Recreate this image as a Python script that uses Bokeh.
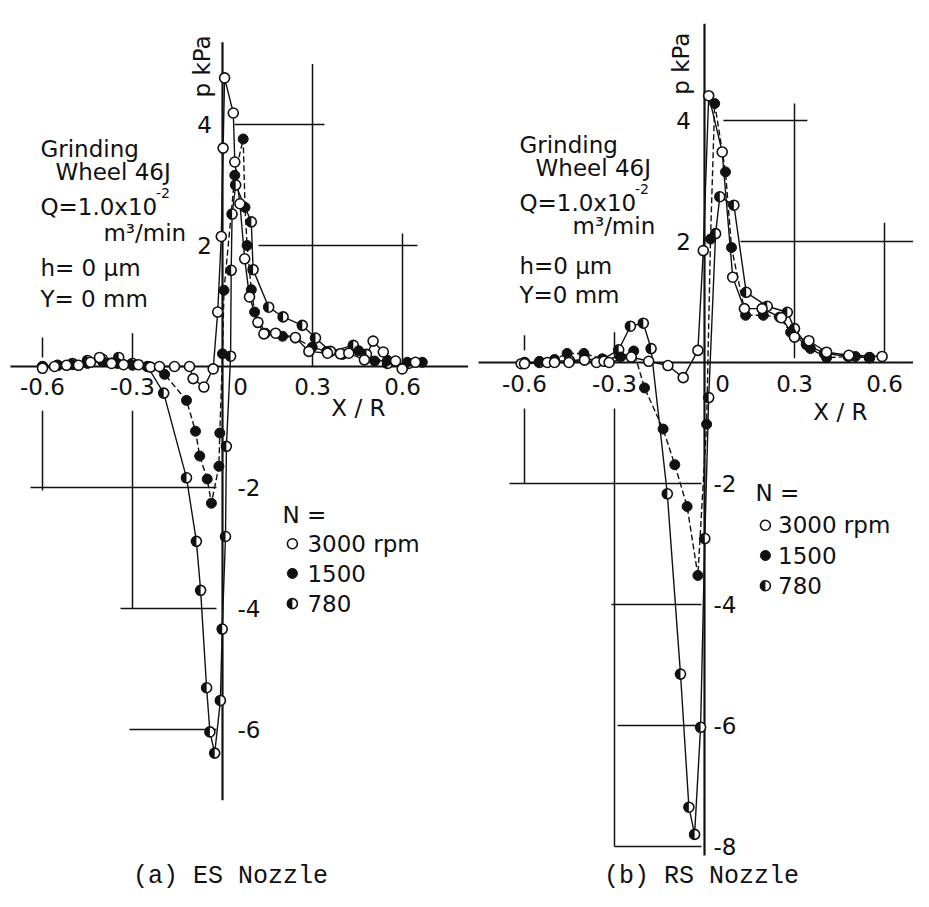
import numpy as np
from bokeh.plotting import figure
from bokeh.layouts import row
from bokeh.models import Range1d
from bokeh.core.properties import value
from bokeh.embed import file_html
from bokeh.resources import INLINE

# ---------------- DATA ----------------
series_names = ["3000 rpm", "1500", "780"]

# (a) ES Nozzle
a_x_3000 = [-0.60, -0.56, -0.52, -0.48, -0.44, -0.41, -0.37, -0.33, -0.28, -0.24, -0.21, -0.16, -0.11,
            -0.098, -0.062, -0.031, -0.016, -0.004, 0.002, 0.007, 0.036, 0.041, 0.058, 0.074, 0.09,
            0.118, 0.138, 0.177, 0.243, 0.288, 0.35, 0.393, 0.421, 0.473, 0.502, 0.536, 0.577, 0.599, 0.643]
a_p_3000 = [-0.03, 0.0, 0.02, 0.02, 0.07, 0.15, 0.05, 0.03, 0.03, -0.01, 0.0, 0.0, 0.0,
            -0.2, -0.34, -0.04, 0.90, 2.15, 3.61, 4.77, 4.19, 3.38, 2.69, 1.78, 1.15,
            0.73, 0.54, 0.55, 0.48, 0.25, 0.22, 0.21, 0.22, 0.11, 0.42, 0.24, 0.09, -0.04, 0.07]

a_x_1500 = [-0.60, -0.55, -0.50, -0.45, -0.40, -0.35, -0.30, -0.25, -0.193, -0.12, -0.09, -0.076,
            -0.051, -0.037, -0.012, -0.009, 0.0, 0.005, 0.041, 0.069, 0.075, 0.082, 0.096, 0.107,
            0.143, 0.20, 0.243, 0.299, 0.347, 0.40, 0.454, 0.507, 0.55, 0.616, 0.666]
a_p_1500 = [0.0, 0.02, 0.03, 0.05, 0.08, 0.05, 0.02, 0.0, -0.13, -0.56, -1.07, -1.48,
            -1.86, -2.26, -1.65, -1.10, 0.21, 1.26, 3.16, 3.76, 2.63, 2.0, 1.27, 0.9,
            0.55, 0.5, 0.47, 0.32, 0.25, 0.2, 0.26, 0.09, 0.1, 0.07, 0.07]

a_x_780 = [-0.60, -0.55, -0.50, -0.45, -0.40, -0.346, -0.30, -0.25, -0.196, -0.12, -0.087, -0.073,
           -0.053, -0.042, -0.026, -0.007, -0.001, 0.01, 0.013, 0.027, 0.029, 0.032, 0.044, 0.096,
           0.102, 0.154, 0.202, 0.266, 0.31, 0.36, 0.436, 0.48, 0.55, 0.62]
a_p_780 = [0.0, 0.02, 0.05, 0.1, 0.12, 0.15, 0.05, 0.0, -0.44, -1.84, -2.89, -3.70,
           -5.31, -6.04, -6.39, -5.52, -4.34, -2.81, -1.32, 0.17, 1.59, 2.52, 3.0, 2.39,
           1.6, 0.98, 0.82, 0.68, 0.47, 0.25, 0.35, 0.2, 0.05, 0.05]

# (b) RS Nozzle
b_x_3000 = [-0.611, -0.60, -0.524, -0.50, -0.452, -0.40, -0.36, -0.335, -0.318, -0.244, -0.186,
            -0.122, -0.071, -0.022, -0.004, 0.014, 0.059, 0.094, 0.133, 0.192, 0.256, 0.30,
            0.348, 0.407, 0.481, 0.592]
b_p_3000 = [-0.02, -0.02, 0.0, 0.0, 0.0, 0.04, 0.0, 0.02, 0.0, 0.09, 0.02,
            -0.05, -0.25, 0.2, 1.85, 4.41, 3.48, 1.41, 0.89, 0.89, 0.74, 0.42,
            0.36, 0.17, 0.12, 0.1]

b_x_1500 = [-0.60, -0.55, -0.50, -0.458, -0.402, -0.341, -0.28, -0.236, -0.2, -0.138, -0.099,
            -0.058, -0.022, 0.007, 0.02, 0.034, 0.07, 0.09, 0.137, 0.196, 0.25, 0.287, 0.353,
            0.407, 0.503, 0.55]
b_p_1500 = [0.0, 0.02, 0.05, 0.15, 0.15, 0.06, 0.09, 0.19, -0.42, -1.10, -1.69,
            -2.38, -3.52, -1.02, 2.04, 4.28, 3.15, 1.9, 0.78, 0.78, 0.75, 0.5, 0.23,
            0.08, 0.1, 0.08]

b_x_780 = [-0.60, -0.55, -0.50, -0.45, -0.40, -0.34, -0.286, -0.247, -0.204, -0.178, -0.124,
           -0.08, -0.052, -0.033, -0.013, 0.001, 0.014, 0.037, 0.051, 0.098, 0.139, 0.209,
           0.276, 0.30, 0.34, 0.40, 0.48, 0.55]
b_p_780 = [0.0, 0.0, 0.02, 0.03, 0.05, 0.05, 0.21, 0.6, 0.65, 0.23, -2.17,
           -5.15, -7.35, -7.80, -6.03, -2.91, -0.58, 2.13, 2.74, 2.6, 1.16, 0.93,
           0.83, 0.56, 0.3, 0.15, 0.1, 0.08]

x_ticks = [-0.6, -0.3, 0.3, 0.6]
x_tick_labels = ["-0.6", "-0.3", "0.3", "0.6"]
y_ticks_pos = [4, 2]
y_ticks_neg_a = [-2, -4, -6]
y_ticks_neg_b = [-2, -4, -6, -8]

# ---------------- STYLE / LAYOUT ----------------
SX, SY = 300.0, 60.5
FONT = value("DejaVu Sans")
MONO = value("Liberation Mono")
FS = "23px"
INK = "#111111"


def half_marker(p, xs, ys, size=10):
    p.scatter(xs, ys, marker="circle", size=size, fill_color="white", line_color=INK, line_width=1.6)
    p.wedge(xs, ys, radius=size / 2.0, radius_units="screen", start_angle=np.pi / 2,
            end_angle=3 * np.pi / 2, fill_color=INK, line_color=None)


def make_panel(W, H, px0, py0, data, cfg):
    p = figure(width=W, height=H,
               x_range=Range1d(-px0 / SX, (W - px0) / SX),
               y_range=Range1d((py0 - H) / SY, py0 / SY),
               output_backend="svg", toolbar_location=None, title=None,
               x_axis_location=None, y_axis_location=None, min_border=0,
               outline_line_color=None, background_fill_color="white")
    p.xgrid.grid_line_color = None
    p.ygrid.grid_line_color = None

    # scale frame lines
    g = cfg["grid"]
    p.segment([s[0] for s in g], [s[1] for s in g], [s[2] for s in g], [s[3] for s in g],
              line_color=INK, line_width=1.5)
    # axes
    xa, ya = cfg["xaxis"], cfg["yaxis"]
    p.segment([xa[0]], [0], [xa[1]], [0], line_color=INK, line_width=2)
    p.segment([0], [ya[0]], [0], [ya[1]], line_color=INK, line_width=2.2)

    # tick labels
    p.text(x=x_ticks, y=[cfg["xlab_y"]] * len(x_ticks), text=x_tick_labels, text_align="center",
           text_baseline="middle", text_font=FONT, text_font_size=FS, text_color=INK)
    p.text(x=[cfg["zero_x"]], y=[cfg["xlab_y"]], text=["0"], text_align="center",
           text_baseline="middle", text_font=FONT, text_font_size=FS, text_color=INK)
    p.text(x=[cfg["ypos_x"]] * len(y_ticks_pos), y=y_ticks_pos, text=[str(v) for v in y_ticks_pos],
           text_align="right", text_baseline="middle", text_font=FONT, text_font_size=FS, text_color=INK)
    yn = cfg["yneg"]
    p.text(x=[cfg["yneg_x"]] * len(yn), y=yn, text=[str(v) for v in yn],
           text_align="left", text_baseline="middle", text_font=FONT, text_font_size=FS, text_color=INK)
    p.text(x=[cfg["xr"][0]], y=[cfg["xr"][1]], text=["X / R"], text_align="center",
           text_baseline="middle", text_font=FONT, text_font_size=FS, text_color=INK)
    p.text(x=[cfg["pk"][0]], y=[cfg["pk"][1]], text=["p  kPa"], angle=np.pi / 2, text_align="center",
           text_baseline="middle", text_font=FONT, text_font_size=FS, text_color=INK)

    # series lines
    (x3, y3), (x15, y15), (x78, y78) = data
    p.line(x78, y78, line_color=INK, line_width=1.4)
    p.line(x15, y15, line_color=INK, line_width=1.4, line_dash="6 3")
    p.line(x3, y3, line_color=INK, line_width=1.4)
    # markers
    half_marker(p, x78, y78)
    p.scatter(x15, y15, marker="circle", size=10, fill_color=INK, line_color=INK, line_width=1)
    p.scatter(x3, y3, marker="circle", size=10, fill_color="white", line_color=INK, line_width=1.6)

    # condition annotations
    for (tx, ty, tt) in cfg["notes"]:
        p.text(x=[tx], y=[ty], text=[tt], text_align="left", text_baseline="middle",
               text_font=FONT, text_font_size=FS, text_color=INK)
    sx, sy = cfg["sup"]
    p.text(x=[sx], y=[sy], text=["-2"], text_align="left", text_baseline="middle",
           text_font=FONT, text_font_size="14px", text_color=INK)

    # legend (N =)
    lx, ly, mx, tx, rows = cfg["legend"]
    p.text(x=[lx], y=[ly], text=["N ="], text_align="left", text_baseline="middle",
           text_font=FONT, text_font_size=FS, text_color=INK)
    p.scatter([mx], [rows[0]], marker="circle", size=10, fill_color="white", line_color=INK, line_width=1.6)
    p.scatter([mx], [rows[1]], marker="circle", size=10, fill_color=INK, line_color=INK)
    half_marker(p, [mx], [rows[2]])
    p.text(x=[tx] * 3, y=rows, text=series_names, text_align="left", text_baseline="middle",
           text_font=FONT, text_font_size=FS, text_color=INK)

    # caption
    cx, cy, ct = cfg["caption"]
    p.text(x=[cx], y=[cy], text=[ct], text_align="center", text_baseline="middle",
           text_font=MONO, text_font_size="25px", text_color=INK)
    return p


cfg_a = dict(
    xaxis=(-0.707, 0.83), yaxis=(5.36, -7.17),
    grid=[(-0.6, 0.15, -0.6, 0.48), (-0.3, 0.07, -0.3, 0.55),
          (-0.6, -0.73, -0.6, -2.05), (-0.3, -0.73, -0.3, -4.0),
          (-0.64, -2, -0.02, -2), (-0.34, -4, -0.02, -4), (-0.31, -6, -0.02, -6),
          (0.04, 4, 0.34, 4), (0.3, 5.0, 0.3, 0.0), (0.12, 2, 0.65, 2), (0.6, 2.2, 0.6, 0.0)],
    xlab_y=-0.33, zero_x=0.06, ypos_x=-0.035, yneg_x=0.05, yneg=y_ticks_neg_a,
    xr=(0.453, -0.69), pk=(-0.067, 5.02),
    notes=[(-0.607, 3.6, "Grinding"), (-0.557, 3.21, "Wheel  46J"), (-0.607, 2.64, "Q=1.0x10"),
           (-0.397, 2.21, "m³/min"), (-0.607, 1.62, "h= 0  μm"), (-0.607, 1.12, "Y= 0  mm")],
    sup=(-0.222, 2.87),
    legend=(0.2, -2.46, 0.233, 0.283, [-2.93, -3.42, -3.92]),
    caption=(0.027, -8.43, "(a) ES Nozzle"),
)

cfg_b = dict(
    xaxis=(-0.753, 0.75), yaxis=(5.6, -8.15),
    grid=[(-0.6, 0.2, -0.6, 0.45), (-0.3, 0.07, -0.3, 0.5),
          (-0.6, -0.76, -0.6, -2.0), (-0.3, -0.76, -0.3, -8.0),
          (-0.65, -2, -0.01, -2), (-0.31, -4, -0.01, -4), (-0.29, -6, -0.01, -6), (-0.3, -8, -0.01, -8),
          (0.063, 4, 0.343, 4), (0.3, 4.28, 0.3, 0.07), (0.12, 2, 0.75, 2), (0.6, 2.31, 0.6, 0.07)],
    xlab_y=-0.35, zero_x=0.06, ypos_x=-0.045, yneg_x=0.03, yneg=y_ticks_neg_b,
    xr=(0.453, -0.81), pk=(-0.077, 5.0),
    notes=[(-0.617, 3.59, "Grinding"), (-0.563, 3.21, "Wheel  46J"), (-0.617, 2.64, "Q=1.0x10"),
           (-0.44, 2.25, "m³/min"), (-0.617, 1.6, "h=0  μm"), (-0.617, 1.11, "Y=0  mm")],
    sup=(-0.232, 2.87),
    legend=(0.17, -2.15, 0.203, 0.245, [-2.69, -3.19, -3.69]),
    caption=(-0.01, -8.5, "(b) RS Nozzle"),
)

# page pixel of the origin of each panel (panel a starts at page x=0, panel b at 468)
pa = make_panel(468, 891, 222, 366,
                [(a_x_3000, a_p_3000), (a_x_1500, a_p_1500), (a_x_780, a_p_780)], cfg_a)
pb = make_panel(445, 891, 236, 362,
                [(b_x_3000, b_p_3000), (b_x_1500, b_p_1500), (b_x_780, b_p_780)], cfg_b)

layout = row(pa, pb, spacing=0)
open("out.html", "w").write(file_html(layout, INLINE))
